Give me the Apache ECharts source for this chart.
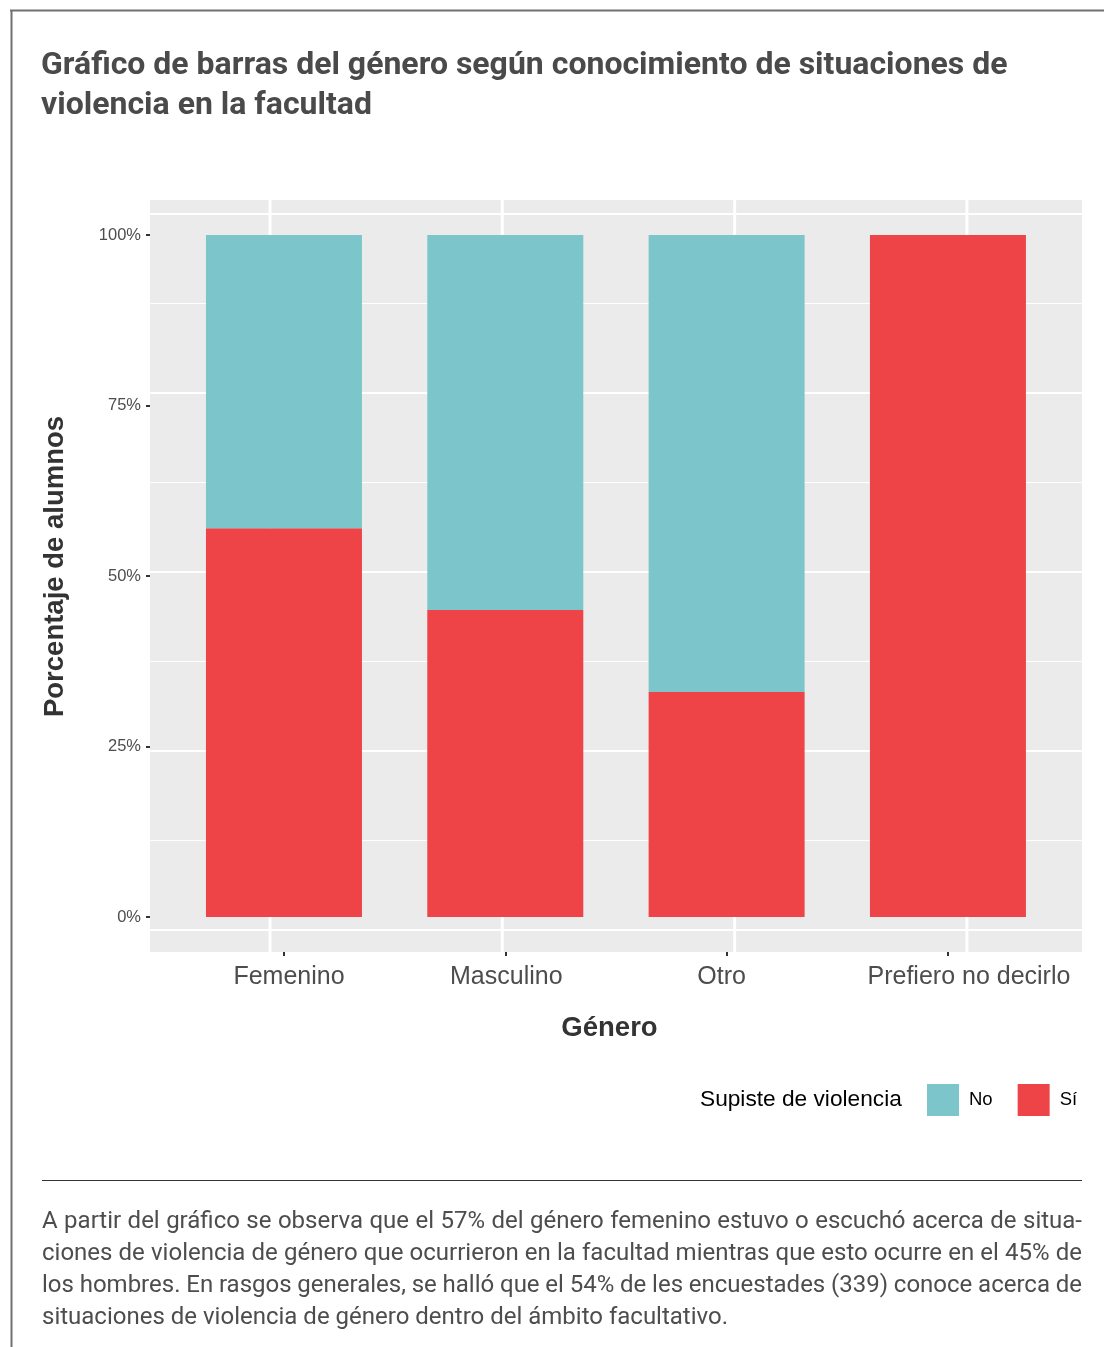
<!DOCTYPE html>
<html><head><meta charset="utf-8">
<script src="https://cdn.jsdelivr.net/npm/echarts@6/dist/echarts.min.js"></script>
<style>html,body{margin:0;padding:0;background:#fff}#c{width:1104px;height:1347px}</style>
</head><body><div id="c"></div>
<script>
// ---- data ----
const categories = ['Femenino', 'Masculino', 'Otro', 'Prefiero no decirlo'];
const siValues = [57, 45, 33, 100];
const noValues = [43, 55, 67, 0];
const yTickValues = [0, 25, 50, 75, 100];
const seriesNames = ['No', 'Sí'];
const legendTitle = 'Supiste de violencia';
const xTitle = 'Género';
const yTitle = 'Porcentaje de alumnos';
const titleLines = [
  'Gráfico de barras del género según conocimiento de situaciones de',
  'violencia en la facultad'
];
const noteLines = [
  'A partir del gráfico se observa que el 57% del género femenino estuvo o escuchó acerca de situa-',
  'ciones de violencia de género que ocurrieron en la facultad mientras que esto ocurre en el 45% de',
  'los hombres. En rasgos generales, se halló que el 54% de les encuestades (339) conoce acerca de',
  'situaciones de violencia de género dentro del ámbito facultativo.'
];
// panel grid line positions (background layer)
const gridMajorY = [0, 25, 50, 75, 100];
const gridMinorY = [12.5, 37.5, 62.5, 87.5];
const gridX = [1, 2, 3, 4];

const COLOR_NO = '#7CC6CB';
const COLOR_SI = '#EF4447';
const labelShift = [5, 1, -5, 21];
const AX_FONT = 'Liberation Sans, Arial';

const chart = echarts.init(document.getElementById('c'), null, {renderer: 'canvas'});

function lineRenderer(horizontal, width) {
  return function (params, api) {
    const cs = params.coordSys;
    const p = api.coord([api.value(0), api.value(1)]);
    const shape = horizontal
      ? {x1: cs.x, y1: p[1], x2: cs.x + cs.width, y2: p[1]}
      : {x1: p[0], y1: cs.y, x2: p[0], y2: cs.y + cs.height};
    return {type: 'line', shape: shape, style: {stroke: '#FFFFFF', lineWidth: width}};
  };
}

const graphics = [
  {type: 'line', shape: {x1: 10, y1: 10.5, x2: 1104, y2: 10.5}, style: {stroke: '#707070', lineWidth: 2}},
  {type: 'line', shape: {x1: 11.5, y1: 10, x2: 11.5, y2: 1347}, style: {stroke: '#707070', lineWidth: 2}},
  {type: 'line', shape: {x1: 42, y1: 1180.5, x2: 1082, y2: 1180.5}, style: {stroke: '#333333', lineWidth: 1}},
  {type: 'text', x: 55, y: 566.5, rotation: Math.PI / 2,
   style: {text: yTitle, fontFamily: AX_FONT, fontWeight: 'bold', fontSize: 27.5,
           fill: '#333333', align: 'center', verticalAlign: 'middle'}},
  {type: 'text', x: 609.5, y: 1028,
   style: {text: xTitle, fontFamily: AX_FONT, fontWeight: 'bold', fontSize: 27.5,
           fill: '#333333', align: 'center', verticalAlign: 'middle'}},
  {type: 'text', x: 700, y: 1100,
   style: {text: legendTitle, fontFamily: AX_FONT, fontSize: 22.7,
           fill: '#000000', align: 'left', verticalAlign: 'middle'}}
];
titleLines.forEach(function (t, i) {
  graphics.push({type: 'text', x: 41, y: 66 + i * 40,
    style: {text: t, fontFamily: 'Roboto', fontWeight: 'bold', fontSize: 32,
            fill: '#4A4A4A', align: 'left', verticalAlign: 'middle'}});
});

// justified note paragraph (last line left-aligned)
const NOTE_SIZE = 24, NOTE_LEFT = 42, NOTE_RIGHT = 1082;
const mctx = document.createElement('canvas').getContext('2d');
mctx.font = NOTE_SIZE + 'px Roboto';
noteLines.forEach(function (t, i) {
  const y = 1222 + i * 32;
  const style = {fontFamily: 'Roboto', fontSize: NOTE_SIZE, fill: '#4D4D4D', align: 'left', verticalAlign: 'middle'};
  if (i === noteLines.length - 1) {
    graphics.push({type: 'text', x: NOTE_LEFT, y: y, style: Object.assign({text: t}, style)});
    return;
  }
  const words = t.split(' ');
  const widths = words.map(function (w) { return mctx.measureText(w).width; });
  const total = widths.reduce(function (a, b) { return a + b; }, 0);
  const gap = (NOTE_RIGHT - NOTE_LEFT - total) / (words.length - 1);
  let x = NOTE_LEFT;
  words.forEach(function (w, k) {
    graphics.push({type: 'text', x: x, y: y, style: Object.assign({text: w}, style)});
    x += widths[k] + gap;
  });
});

const richLabel = {};
labelShift.forEach(function (s, i) {
  richLabel['s' + i] = {
    padding: s >= 0 ? [0, 0, 0, 2 * s] : [0, -2 * s, 0, 0],
    fontSize: 25, color: '#4D4D4D', fontFamily: AX_FONT
  };
});

const option = {
  animation: false,
  backgroundColor: '#FFFFFF',
  grid: [
    {left: 150, top: 200, width: 932, height: 752, show: true, backgroundColor: '#EBEBEB', borderWidth: 0},
    {left: 173.3, top: 235, width: 885.3, height: 682, show: false}
  ],
  xAxis: [
    {gridIndex: 0, type: 'value', min: 0.4834, max: 4.4954, show: false},
    {gridIndex: 1, type: 'category', data: categories, position: 'bottom', offset: 35,
     axisLine: {show: false, onZero: false},
     axisTick: {show: true, interval: 0, alignWithLabel: true, length: 4, lineStyle: {color: '#333333', width: 2}},
     axisLabel: {interval: 0, margin: 13, fontFamily: AX_FONT, fontSize: 25, color: '#4D4D4D',
       formatter: function (v, i) { return '{s' + i + '|' + v + '}'; },
       rich: richLabel},
     splitLine: {show: false}}
  ],
  yAxis: [
    {gridIndex: 0, type: 'value', min: -3.07, max: 101.955, show: false},
    {gridIndex: 1, type: 'value', min: 0, max: 100, interval: 25, offset: 23.3,
     axisLine: {show: false},
     axisTick: {show: true, length: 4, lineStyle: {color: '#333333', width: 2}},
     axisLabel: {margin: 9, fontFamily: AX_FONT, fontSize: 16.5, color: '#4D4D4D',
       formatter: '{value}%'},
     splitLine: {show: false}}
  ],
  legend: {
    data: seriesNames, left: 927, top: 1084, orient: 'horizontal', padding: 0,
    itemWidth: 32, itemHeight: 32, itemGap: 25, icon: 'rect',
    textStyle: {fontFamily: AX_FONT, fontSize: 18.5, color: '#000000', padding: [0, 0, 0, 5]}
  },
  graphic: graphics,
  series: [
    {type: 'custom', xAxisIndex: 0, yAxisIndex: 0, silent: true, z: 1,
     renderItem: lineRenderer(true, 1), data: gridMinorY.map(function (v) { return [1, v]; })},
    {type: 'custom', xAxisIndex: 0, yAxisIndex: 0, silent: true, z: 1,
     renderItem: lineRenderer(true, 2), data: gridMajorY.map(function (v) { return [1, v]; })},
    {type: 'custom', xAxisIndex: 0, yAxisIndex: 0, silent: true, z: 1,
     renderItem: lineRenderer(false, 3), data: gridX.map(function (v) { return [v, 50]; })},
    {name: 'Sí', type: 'bar', stack: 'total', xAxisIndex: 1, yAxisIndex: 1,
     barWidth: 156, itemStyle: {color: COLOR_SI}, data: siValues, z: 3},
    {name: 'No', type: 'bar', stack: 'total', xAxisIndex: 1, yAxisIndex: 1,
     barWidth: 156, itemStyle: {color: COLOR_NO}, data: noValues, z: 3}
  ]
};
chart.setOption(option);
</script>
</body></html>
